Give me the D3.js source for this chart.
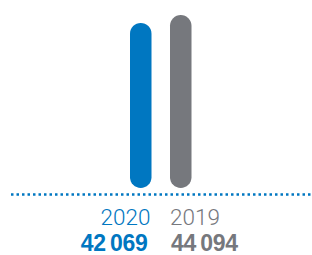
<!DOCTYPE html>
<html lang="en">
<head>
    <meta charset="UTF-8"/>
    <title>2020 vs 2019</title>
    <script src="https://d3js.org/d3.v7.min.js"></script>
    <style>
        body { margin: 0; background: #fff; }
        .year { font-family: Roboto, "Liberation Sans", sans-serif; font-weight: 300; font-size: 22.5px; }
        .num { font-family: "Liberation Sans", Arial, sans-serif; font-weight: bold; font-size: 23px; letter-spacing: -0.3px; }
    </style>
</head>
<body>
    <script>
        var w = 312;
        var h = 255;

        var years = ["2020", "2019"];
        var values = [42069, 44094];
        var colors = ["#0077c1", "#76787d"];

        var barWidth = 21.5;

        var xScale = d3.scalePoint()
            .domain(years)
            .range([140.75, 180.75]);

        var yScale = d3.scaleLinear()
            .domain([0, d3.max(values)])
            .range([188, 15]);

        var svg = d3.select("body")
            .append("svg")
            .attr("width", w)
            .attr("height", h);

        // bars with round caps
        svg.selectAll("rect.bar")
            .data(values)
            .enter()
            .append("rect")
            .attr("class", "bar")
            .attr("x", function(d, i) { return xScale(years[i]) - barWidth / 2; })
            .attr("y", function(d) { return yScale(d); })
            .attr("width", barWidth)
            .attr("height", function(d) { return yScale(0) - yScale(d); })
            .attr("rx", barWidth / 2)
            .attr("fill", function(d, i) { return colors[i]; });

        // dotted baseline
        svg.append("line")
            .attr("x1", 11)
            .attr("x2", w)
            .attr("y1", 194.5)
            .attr("y2", 194.5)
            .attr("stroke", "#0077c1")
            .attr("stroke-width", 2.5)
            .attr("stroke-dasharray", "2.5,3");

        var fmt = d3.formatLocale({ decimal: ",", thousands: "\u2009", grouping: [3], currency: ["", ""] }).format(",d");

        // year labels: first right aligned to its bar, second left aligned
        svg.selectAll("text.year")
            .data(years)
            .enter()
            .append("text")
            .attr("class", "year")
            .attr("x", function(d, i) { return i === 0 ? xScale(d) + barWidth / 2 - 1 : xScale(d) - barWidth / 2; })
            .attr("y", 225)
            .attr("text-anchor", function(d, i) { return i === 0 ? "end" : "start"; })
            .attr("fill", function(d, i) { return colors[i]; })
            .text(function(d) { return d; });

        svg.selectAll("text.num")
            .data(values)
            .enter()
            .append("text")
            .attr("class", "num")
            .attr("x", function(d, i) { return i === 0 ? xScale(years[i]) + barWidth / 2 - 4 : xScale(years[i]) - barWidth / 2 + 1; })
            .attr("y", 251)
            .attr("text-anchor", function(d, i) { return i === 0 ? "end" : "start"; })
            .attr("fill", function(d, i) { return colors[i]; })
            .text(function(d) { return fmt(d); });
    </script>
</body>
</html>
